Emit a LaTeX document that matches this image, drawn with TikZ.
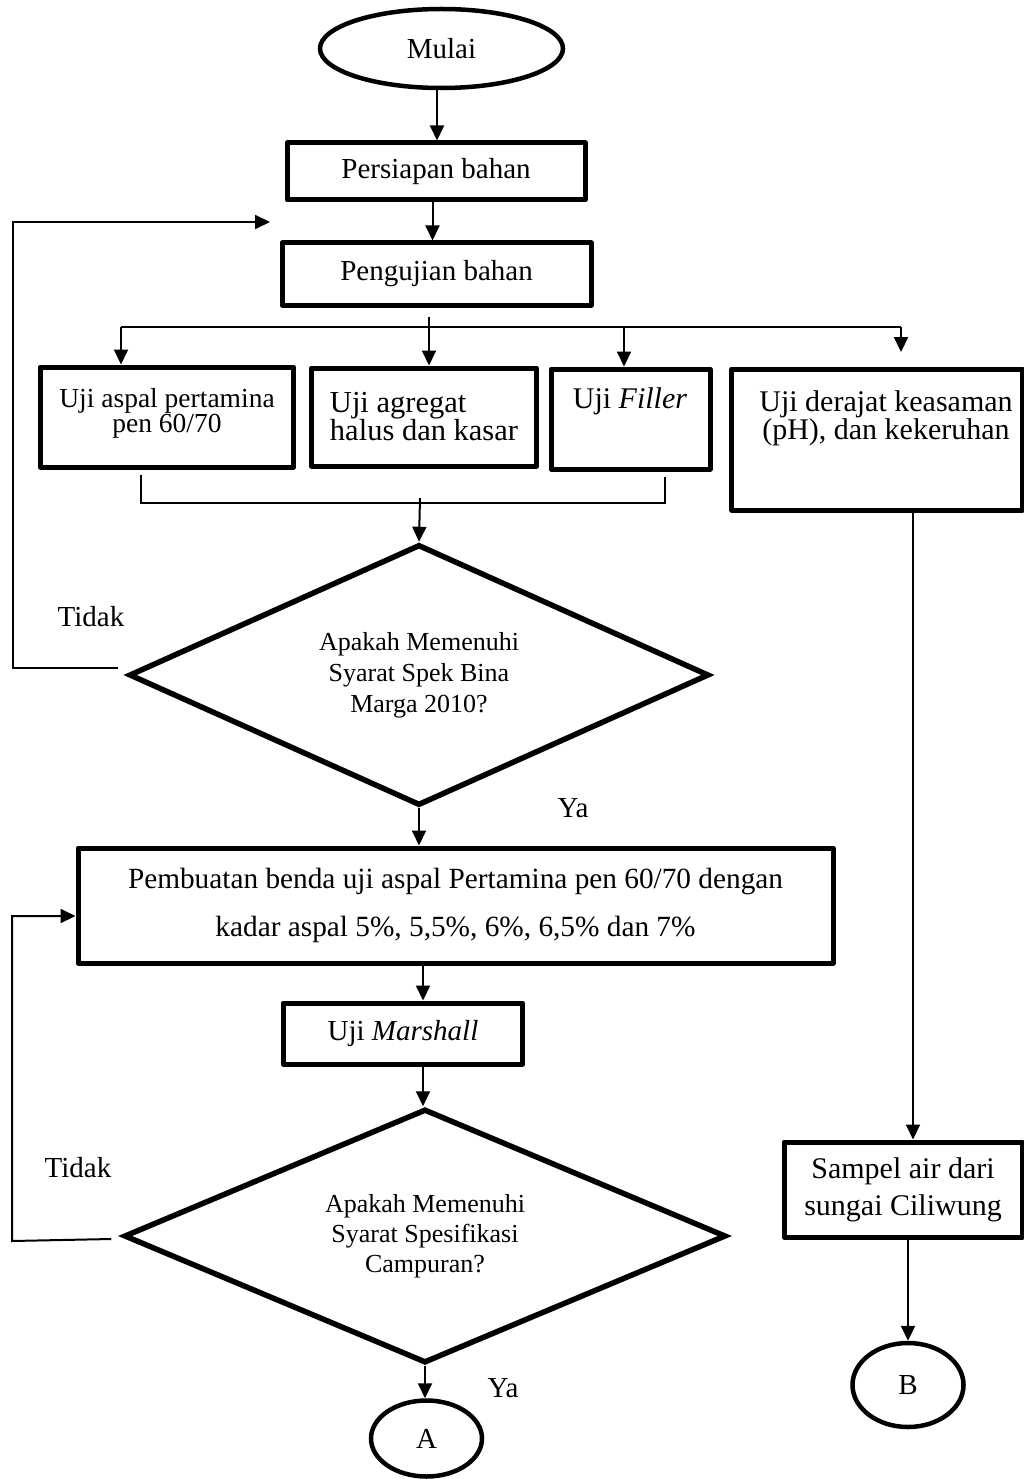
\documentclass[tikz,border=0pt]{standalone}
\usepackage{fontspec}
\setmainfont{Liberation Serif}
\usetikzlibrary{arrows.meta,shapes.geometric,calc}
\begin{document}
\begin{tikzpicture}[x=1pt,y=-1pt,
  every node/.style={font=\fontsize{29}{34}\selectfont},
  box/.style={draw,line width=5pt,rectangle,inner sep=0pt,line join=round},
  term/.style={draw,line width=4.5pt,ellipse,inner sep=0pt},
  dia/.style={draw,line width=5.5pt,diamond,inner sep=0pt,align=center,
    font=\fontsize{26}{31}\selectfont},
  conn/.style={line width=2pt},
  arr/.style={line width=2pt,-{Triangle[length=15pt,width=14pt]}},
  lbl/.style={inner sep=0pt},
]
\useasboundingbox (0,0) rectangle (1024,1479);

% ---------- nodes ----------
\node[term,minimum width=243pt,minimum height=79pt] (mulai) at (441.5,48.5) {Mulai};
\node[box,minimum width=298pt,minimum height=57pt] (persiapan) at (436,171.5) {Persiapan bahan};
\node[box,minimum width=309pt,minimum height=62pt] (pengujian) at (436.5,274) {Pengujian bahan};

\node[box,minimum width=253.5pt,minimum height=100pt] (b1) at (167,417) {};
\node[lbl,align=center,font=\fontsize{27.5}{25}\selectfont] (t1) at (167,413) {Uji aspal pertamina\\pen 60/70};
\node[box,minimum width=225.5pt,minimum height=98pt,align=left,font=\fontsize{30.5}{28}\selectfont] (b2) at (424,417) {Uji agregat\\halus dan kasar};
\node[box,minimum width=159pt,minimum height=100pt] (b3) at (630.5,419) {};
\node[lbl,font=\fontsize{30}{34}\selectfont] (t3) at (630,401) {Uji \textit{Filler}};
\node[box,minimum width=290.5pt,minimum height=141pt] (b4) at (877,439.5) {};
\node[lbl,align=center,font=\fontsize{30}{28}\selectfont] (t4) at (886,418) {Uji derajat keasaman\\(pH), dan kekeruhan};

\node[dia,minimum width=580pt,minimum height=261pt,aspect=2.2] (d1) at (419,675)
  {Apakah Memenuhi\\Syarat Spek Bina\\Marga 2010?};
\node[lbl] (tidak1) at (91,617) {Tidak};
\node[lbl] (ya1) at (573,808) {Ya};

\node[box,minimum width=755pt,minimum height=115pt,align=center,font=\fontsize{29.3}{48}\selectfont] (b5) at (455.5,905.5)
  {Pembuatan benda uji aspal Pertamina pen 60/70 dengan\\kadar aspal 5\%, 5,5\%, 6\%, 6,5\% dan 7\%};
\node[box,minimum width=239.5pt,minimum height=61pt] (mar) at (403,1033.5) {Uji \textit{Marshall}};

\node[dia,minimum width=602pt,minimum height=254pt,aspect=2.37,font=\fontsize{26}{30}\selectfont] (d2) at (425,1236)
  {Apakah Memenuhi\\Syarat Spesifikasi\\Campuran?};
\node[lbl] (tidak2) at (78,1168) {Tidak};
\node[lbl] (ya2) at (503,1388) {Ya};
\node[term,minimum width=111pt,minimum height=76pt] (A) at (426.5,1438.5) {A};

\node[box,minimum width=238pt,minimum height=95pt,align=center,font=\fontsize{30}{37}\selectfont] (b6) at (903,1189.5)
  {Sampel air dari\\sungai Ciliwung};
\node[term,minimum width=111pt,minimum height=84pt] (B) at (908,1385) {B};

% ---------- coordinates ----------
\coordinate (busL) at (121,327);
\coordinate (busR) at (901,327);
\coordinate (busA) at (624,327);
\coordinate (busS) at (429,317);
\coordinate (busE) at (901,352);
\coordinate (jL) at (140.5,503);
\coordinate (jR) at (665,503);
\coordinate (jM) at (420,498);
\coordinate (fb1a) at (13,668);
\coordinate (fb1b) at (13,222);
\coordinate (fb1e) at (270,222);
\coordinate (fb2a) at (12,1241);
\coordinate (fb2b) at (12,916);
\coordinate (xm) at (423,0);
\coordinate (xr) at (913,0);

% ---------- connectors ----------
\draw[arr] ([xshift=-4.5pt]mulai.south) -- ([xshift=1pt]persiapan.north);
\draw[arr] ([xshift=-3.5pt]persiapan.south) -- ([xshift=-4pt]pengujian.north);

\draw[conn] (busL) -- (busR);
\draw[arr] (busS) -- (busS |- b2.north);
\draw[arr] (busL) -- (busL |- b1.north);
\draw[arr] (busA) -- (busA |- b3.north);
\draw[arr] (busR) -- (busE);

\draw[conn] ([yshift=-5pt]jL |- b1.south) -- (jL) -- (jR) -- ([yshift=-5pt]jR |- b3.south);
\draw[arr] (jM) -- (d1.north);

\draw[arr] ([xshift=-8pt,yshift=7pt]d1.west) -- (fb1a) -- (fb1b) -- (fb1e);
\draw[arr] (d1.south) -- (d1.south |- b5.north);

\draw[arr] (xm |- b5.south) -- (xm |- mar.north);
\draw[arr] (xm |- mar.south) -- (xm |- d2.north);

\draw[arr] ([xshift=-10pt,yshift=-3pt]d2.west) -- (fb2a) -- (fb2b) -- (fb2b -| b5.west);
\draw[arr] (d2.south) -- (d2.south |- A.north);

\draw[arr] (xr |- b4.south) -- (xr |- b6.north);
\draw[arr] (B.north |- b6.south) -- (B.north);
\end{tikzpicture}
\end{document}
